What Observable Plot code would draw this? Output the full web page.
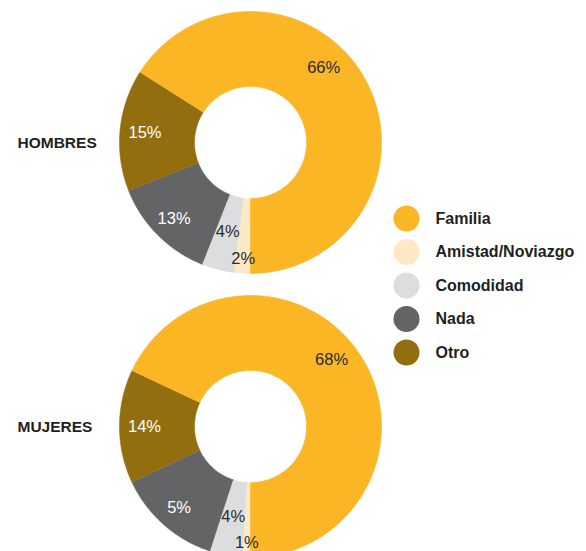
<!DOCTYPE html>
<html><head><meta charset="utf-8">
<script src="https://cdn.jsdelivr.net/npm/d3@7"></script>
<script src="https://cdn.jsdelivr.net/npm/@observablehq/plot@0.6"></script>
<style>body{margin:0;background:#fff} svg{display:block}</style>
</head><body><div id="chart"></div>
<script>
// ---- data ----
const categories = ["Familia", "Amistad/Noviazgo", "Comodidad", "Nada", "Otro"];
const groups = ["HOMBRES", "MUJERES"];
const hombresValues = [66, 2, 4, 13, 15];
const mujeresValues = [68, 1, 4, 13, 14];
const hombresLabels = ["66%", "2%", "4%", "13%", "15%"];
const mujeresLabels = ["68%", "1%", "4%", "5%", "14%"];
const colors = ["#fbb626", "#fee9c6", "#dcdddf", "#636466", "#936e0e"];
const drawOrder = ["Amistad/Noviazgo", "Comodidad", "Nada", "Otro", "Familia"];

// ---- layout / style ----
const W = 586, H = 551;
const layout = {
  HOMBRES: {cx: 250, cy: 142, familiaShift: -17},
  MUJERES: {cx: 250, cy: 426, familiaShift: -7}
};
const R0 = 56, R1 = 131;
const labelRadius = {"Familia": 105, "Amistad/Noviazgo": 116, "Comodidad": 92, "Nada": 108, "Otro": 106};
const whiteText = new Set(["Nada", "Otro"]);

const valuesByGroup = {HOMBRES: hombresValues, MUJERES: mujeresValues};
const labelsByGroup = {HOMBRES: hombresLabels, MUJERES: mujeresLabels};

const arcPts = [];
const labelPts = [];
for (const g of groups) {
  const {cx, cy, familiaShift} = layout[g];
  const vals = valuesByGroup[g];
  const entries = drawOrder.map(c => ({category: c, value: vals[categories.indexOf(c)], label: labelsByGroup[g][categories.indexOf(c)]}));
  const arcs = d3.pie().sort(null).value(d => d.value).startAngle(Math.PI).endAngle(3 * Math.PI)(entries);
  for (const a of arcs) {
    const key = g + "|" + a.data.category;
    const n = Math.max(2, Math.ceil((a.endAngle - a.startAngle) / (Math.PI / 360)));
    const pt = (r, t) => ({x: cx + r * Math.sin(t), y: cy - r * Math.cos(t)});
    for (let i = 0; i <= n; i++) {
      const t = a.startAngle + (a.endAngle - a.startAngle) * i / n;
      arcPts.push({key, category: a.data.category, ...pt(R1, t)});
    }
    for (let i = n; i >= 0; i--) {
      const t = a.startAngle + (a.endAngle - a.startAngle) * i / n;
      arcPts.push({key, category: a.data.category, ...pt(R0, t)});
    }
    let mid = (a.startAngle + a.endAngle) / 2;
    if (a.data.category === "Familia") mid += familiaShift * Math.PI / 180;
    const lr = labelRadius[a.data.category];
    labelPts.push({category: a.data.category, text: a.data.label, ...pt(lr, mid)});
  }
}

const legendX = 406, legendTextX = 435, legendY0 = 218, legendStep = 33.5;
const groupLabelX = 17;

const chart = Plot.plot({
  width: W, height: H,
  margin: 0,
  x: {type: "linear", domain: [0, W], range: [0, W], axis: null},
  y: {type: "linear", domain: [0, H], range: [0, H], axis: null},
  color: {domain: categories, range: colors},
  style: {fontFamily: "'Liberation Sans', Arial, sans-serif", background: "#fff"},
  marks: [
    Plot.line(arcPts, {x: "x", y: "y", z: "key", fill: "category", stroke: "category", strokeWidth: 0.6, curve: "linear"}),
    Plot.text(labelPts.filter(d => !whiteText.has(d.category)), {x: "x", y: "y", text: "text", fill: "#2a2a2a", fontSize: 16.5}),
    Plot.text(labelPts.filter(d => whiteText.has(d.category)), {x: "x", y: "y", text: "text", fill: "#ffffff", fontSize: 16.5}),
    Plot.text(groups, {x: () => groupLabelX, y: d => layout[d].cy + 1, text: d => d, textAnchor: "start", fontWeight: "bold", fontSize: 15.5, fill: "#231f20"}),
    Plot.dot(categories, {x: () => legendX, y: (d, i) => legendY0 + i * legendStep, r: 13, fill: d => d, stroke: null}),
    Plot.text(categories, {x: () => legendTextX, y: (d, i) => legendY0 + i * legendStep, text: d => d, textAnchor: "start", fontWeight: "bold", fontSize: 16, fill: "#231f20"})
  ]
});
document.getElementById("chart").appendChild(chart);
</script>
</body></html>
